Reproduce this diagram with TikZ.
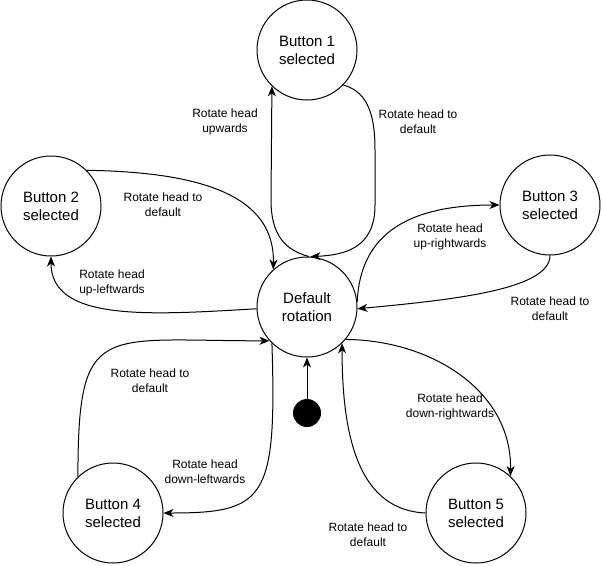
\documentclass[tikz,border=0pt]{standalone}
\usepackage{fontspec}
\setmainfont{Liberation Sans}
\usetikzlibrary{arrows.meta}
\begin{document}
\begin{tikzpicture}[x=1pt,y=-1pt,
  state/.style={draw, circle, line width=1pt, minimum size=100pt, inner sep=0pt, align=center, font=\fontsize{15}{18}\selectfont},
  lbl/.style={align=center, font=\fontsize{12}{15}\selectfont, inner sep=0pt},
  conn/.style={line width=1pt, -{Stealth[length=10pt,width=8pt,inset=3pt]}}]
\useasboundingbox (0,0) rectangle (602,565);
% states
\node[state] (b1) at (307,50) {Button 1\\selected};
\node[state] (b2) at (51,206) {Button 2\\selected};
\node[state] (b3) at (550,205) {Button 3\\selected};
\node[state] (def) at (307,307) {Default\\rotation};
\node[state] (b4) at (113,513) {Button 4\\selected};
\node[state] (b5) at (476,513) {Button 5\\selected};
\node[circle, fill=black, minimum size=28pt, inner sep=0pt] (init) at (307,413) {};
% connectors
\draw[conn] (init) -- (def);
\draw[conn] (def.88) .. controls (285,250) and (271,235) .. (271,200) -- (b1.226);
\draw[conn] (b1.316) .. controls (370,92) and (375,120) .. (375,150) -- (375,205) .. controls (375,248) and (345,255) .. (def.86);
\draw[conn] (b2.45) .. controls (200,172) and (275,195) .. (def.132);
\draw[conn] (def.182) .. controls (150,315) and (51,322) .. (b2.270);
\draw[conn] (def.6) .. controls (360,240) and (400,205) .. (b3.180);
\draw[conn] (b3.270) .. controls (550,290) and (450,300) .. (def.358);
\draw[conn] (def.226) .. controls (277,500) and (265,513) .. (b4.0);
\draw[conn] (b4.134) .. controls (78,320) and (100,341) .. (def.222);
\draw[conn] (def.320) .. controls (430,340) and (512,390) .. (b5.47);
\draw[conn] (b5.180) .. controls (360,510) and (342,440) .. (def.314);
% labels
\node[lbl] (l1) at (225,122) {Rotate head\\upwards};
\node[lbl] (l2) at (418,122) {Rotate head to\\default};
\node[lbl] (l3) at (163,205) {Rotate head to\\default};
\node[lbl] (l4) at (112,283) {Rotate head\\up-leftwards};
\node[lbl] (l5) at (450,237) {Rotate head\\up-rightwards};
\node[lbl] (l6) at (550,309) {Rotate head to\\default};
\node[lbl] (l7) at (150,381) {Rotate head to\\default};
\node[lbl] (l8) at (205,472) {Rotate head\\down-leftwards};
\node[lbl] (l9) at (450,407) {Rotate head\\down-rightwards};
\node[lbl] (l10) at (368,535) {Rotate head to\\default};
\end{tikzpicture}
\end{document}
